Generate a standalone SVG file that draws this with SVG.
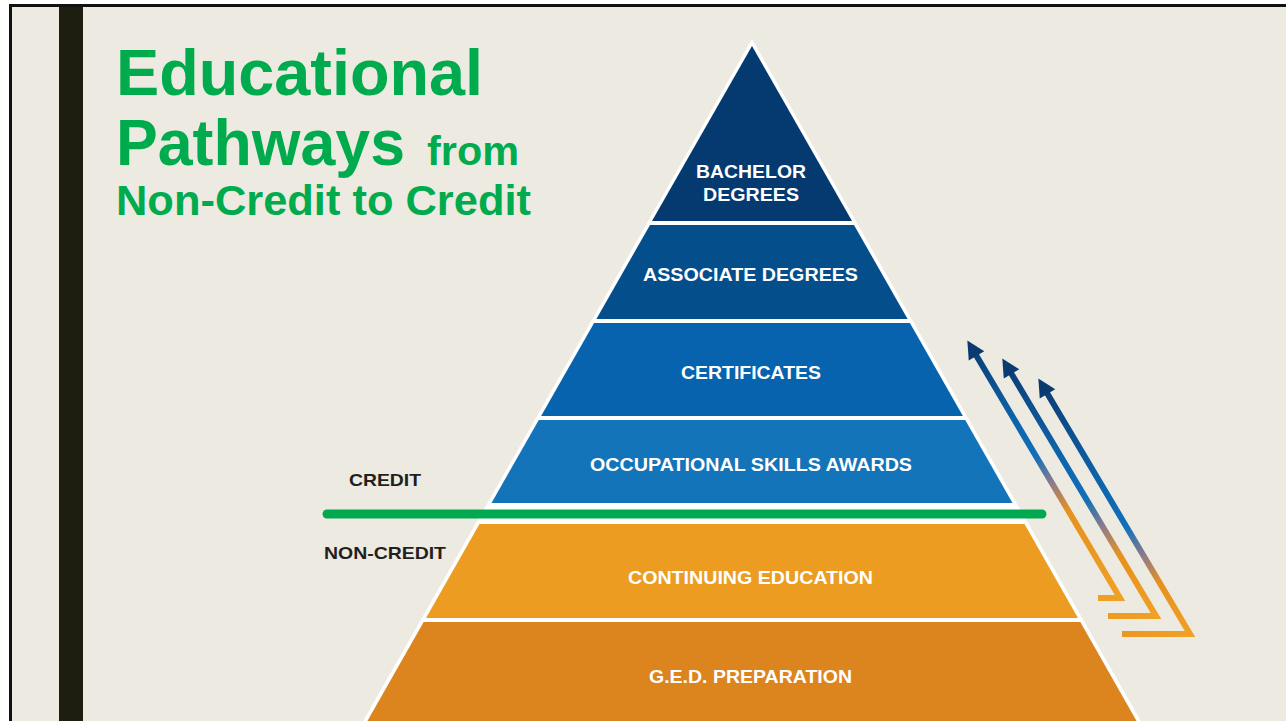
<svg xmlns="http://www.w3.org/2000/svg" width="1286" height="721" viewBox="0 0 1286 721">
<style>
.band-label{font-family:"Liberation Sans",Arial,sans-serif;font-weight:bold;font-size:18px;fill:#ffffff;text-anchor:middle}
.side-label{font-family:"Liberation Sans",Arial,sans-serif;font-weight:bold;font-size:17px;fill:#231f20}
.title{font-family:"Liberation Sans",Arial,sans-serif;font-weight:bold;fill:#00ab4e}
.arrow{fill:none;stroke-width:6;stroke-linejoin:miter;stroke-miterlimit:10}
</style>
<defs>
<marker id="head" markerUnits="userSpaceOnUse" markerWidth="24" markerHeight="24" refX="0" refY="0" viewBox="0 -12 24 24" orient="auto" overflow="visible">
<path d="M-1,-9 L17,0 L-1,9 Z" fill="#0b3a70"/>
</marker>
<linearGradient id="g1" gradientUnits="userSpaceOnUse" x1="968" y1="341" x2="1120" y2="598">
<stop offset="0" stop-color="#0b3a70"/><stop offset="0.3" stop-color="#0d62a9"/><stop offset="0.45" stop-color="#1070b8"/><stop offset="0.55" stop-color="#8a7b8c"/><stop offset="0.66" stop-color="#e6911f"/><stop offset="1" stop-color="#f0a124"/>
</linearGradient>
<linearGradient id="g2" gradientUnits="userSpaceOnUse" x1="1003" y1="359" x2="1156" y2="616">
<stop offset="0" stop-color="#0b3a70"/><stop offset="0.35" stop-color="#0d62a9"/><stop offset="0.55" stop-color="#1070b8"/><stop offset="0.65" stop-color="#8a7b8c"/><stop offset="0.76" stop-color="#e6911f"/><stop offset="1" stop-color="#f0a124"/>
</linearGradient>
<linearGradient id="g3" gradientUnits="userSpaceOnUse" x1="1039" y1="379" x2="1190" y2="634">
<stop offset="0" stop-color="#0b3a70"/><stop offset="0.38" stop-color="#0d62a9"/><stop offset="0.58" stop-color="#1070b8"/><stop offset="0.69" stop-color="#8a7b8c"/><stop offset="0.8" stop-color="#e6911f"/><stop offset="1" stop-color="#f0a124"/>
</linearGradient>
</defs>

<rect x="0" y="0" width="1286" height="721" fill="#ffffff"/>
<rect x="10.5" y="5.5" width="1280" height="720" fill="#edeae2" stroke="#111111" stroke-width="3"/>
<rect x="59" y="7" width="24" height="714" fill="#1e1e10"/>

<g id="title">
<text class="title" x="116" y="95" font-size="64" textLength="367" lengthAdjust="spacingAndGlyphs">Educational</text>
<text class="title" x="116" y="165" font-size="64" textLength="289" lengthAdjust="spacingAndGlyphs">Pathways</text>
<text class="title" x="427" y="165" font-size="41" textLength="92" lengthAdjust="spacingAndGlyphs">from</text>
<text class="title" x="116" y="215" font-size="43" textLength="415" lengthAdjust="spacingAndGlyphs">Non-Credit to Credit</text>
</g>

<g id="pyramid-outline">
<polygon points="752,39 1146,730 358,730" fill="#ffffff"/>
</g>

<g id="bachelor">
<polygon points="752,46 852,221 652,221" fill="#043a70"/>
<text class="band-label" x="751" y="178" textLength="110" lengthAdjust="spacingAndGlyphs">BACHELOR</text>
<text class="band-label" x="751" y="201" textLength="96" lengthAdjust="spacingAndGlyphs">DEGREES</text>
</g>
<g id="associate">
<polygon points="650,225 854,225 907.6,319 596.4,319" fill="#054e8c"/>
<text class="band-label" x="750.5" y="281" textLength="215" lengthAdjust="spacingAndGlyphs">ASSOCIATE DEGREES</text>
</g>
<g id="certificates">
<polygon points="594.1,323 909.9,323 962.9,416 541.1,416" fill="#0763ae"/>
<text class="band-label" x="751" y="379" textLength="140" lengthAdjust="spacingAndGlyphs">CERTIFICATES</text>
</g>
<g id="occupational">
<polygon points="538.8,420 965.2,420 1012.5,503 491.5,503" fill="#1474ba"/>
<text class="band-label" x="751" y="471" textLength="322" lengthAdjust="spacingAndGlyphs">OCCUPATIONAL SKILLS AWARDS</text>
</g>
<g id="continuing">
<polygon points="479.5,524 1024.5,524 1078,618 426,618" fill="#ec9d21"/>
<text class="band-label" x="750.5" y="584" textLength="245" lengthAdjust="spacingAndGlyphs">CONTINUING EDUCATION</text>
</g>
<g id="ged">
<polygon points="423.7,622 1080.3,622 1140,727 364,727" fill="#dc841d"/>
<text class="band-label" x="750.5" y="683" textLength="203" lengthAdjust="spacingAndGlyphs">G.E.D. PREPARATION</text>
</g>

<g id="divider">
<line x1="327" y1="514" x2="1042" y2="514" stroke="#00a84f" stroke-width="9" stroke-linecap="round"/>
<text class="side-label" x="349" y="486" textLength="72" lengthAdjust="spacingAndGlyphs">CREDIT</text>
<text class="side-label" x="324" y="559" textLength="122" lengthAdjust="spacingAndGlyphs">NON-CREDIT</text>
</g>

<g id="connectors">
<path class="arrow" d="M1098,598 L1120,598 L976,355" stroke="url(#g1)" marker-end="url(#head)"/>
<path class="arrow" d="M1108,616 L1156,616 L1011,373" stroke="url(#g2)" marker-end="url(#head)"/>
<path class="arrow" d="M1122,634 L1190,634 L1047,393" stroke="url(#g3)" marker-end="url(#head)"/>
</g>
</svg>
